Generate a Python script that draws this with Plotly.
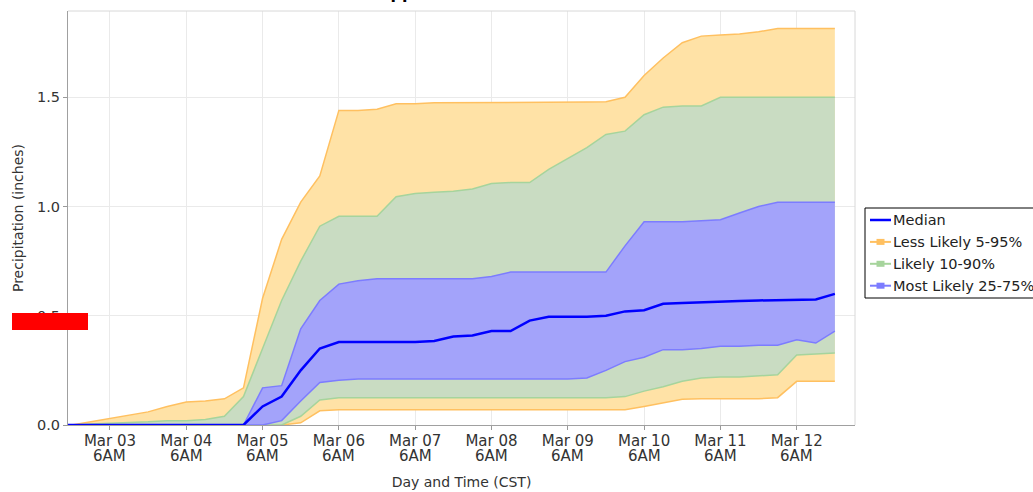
import pandas as pd
import plotly.graph_objects as go

# 6-hourly forecast times (CST)
times = pd.date_range("2024-03-02 12:00", "2024-03-12 18:00", freq="6h")

# Cumulative precipitation percentiles (inches)
p95 = [0, 0, 0.015, 0.03, 0.045, 0.06, 0.085, 0.105, 0.11, 0.12,
       0.17, 0.58, 0.85, 1.02, 1.14, 1.44, 1.44, 1.445, 1.47, 1.47,
       1.475, 1.475, 1.475, 1.475, 1.475, 1.475, 1.475, 1.475, 1.478, 1.48,
       1.50, 1.60, 1.68, 1.75, 1.78, 1.785, 1.79, 1.80, 1.815, 1.815,
       1.815, 1.815]
p90 = [0, 0, 0.005, 0.01, 0.012, 0.015, 0.02, 0.02, 0.025, 0.04,
       0.13, 0.35, 0.57, 0.75, 0.91, 0.955, 0.955, 0.955, 1.045, 1.06,
       1.065, 1.07, 1.08, 1.105, 1.11, 1.11, 1.17, 1.22, 1.27, 1.33,
       1.345, 1.42, 1.455, 1.46, 1.46, 1.50, 1.50, 1.50, 1.50, 1.50,
       1.50, 1.50]
p75 = [0, 0, 0, 0, 0, 0, 0, 0, 0, 0,
       0, 0.17, 0.18, 0.44, 0.57, 0.645, 0.66, 0.67, 0.67, 0.67,
       0.67, 0.67, 0.67, 0.68, 0.70, 0.70, 0.70, 0.70, 0.70, 0.70,
       0.82, 0.93, 0.93, 0.93, 0.935, 0.94, 0.97, 1.00, 1.02, 1.02,
       1.02, 1.02]
median = [0, 0, 0, 0, 0, 0, 0, 0, 0, 0,
          0, 0.085, 0.13, 0.25, 0.35, 0.38, 0.38, 0.38, 0.38, 0.38,
          0.385, 0.405, 0.41, 0.43, 0.43, 0.478, 0.495, 0.495, 0.495, 0.50,
          0.52, 0.525, 0.555, 0.558, 0.562, 0.565, 0.568, 0.57, 0.572, 0.572,
          0.575, 0.60]
p25 = [0, 0, 0, 0, 0, 0, 0, 0, 0, 0,
       0, 0, 0.02, 0.11, 0.195, 0.205, 0.21, 0.21, 0.21, 0.21,
       0.21, 0.21, 0.21, 0.21, 0.21, 0.21, 0.21, 0.21, 0.215, 0.25,
       0.29, 0.31, 0.345, 0.345, 0.35, 0.36, 0.36, 0.365, 0.365, 0.39,
       0.375, 0.43]
p10 = [0, 0, 0, 0, 0, 0, 0, 0, 0, 0,
       0, 0, 0, 0.04, 0.115, 0.125, 0.125, 0.125, 0.125, 0.125,
       0.125, 0.125, 0.125, 0.125, 0.125, 0.125, 0.125, 0.125, 0.125, 0.125,
       0.13, 0.155, 0.175, 0.20, 0.215, 0.22, 0.22, 0.225, 0.23, 0.32,
       0.325, 0.33]
p5 = [0, 0, 0, 0, 0, 0, 0, 0, 0, 0,
      0, 0, 0, 0.01, 0.065, 0.07, 0.07, 0.07, 0.07, 0.07,
      0.07, 0.07, 0.07, 0.07, 0.07, 0.07, 0.07, 0.07, 0.07, 0.07,
      0.07, 0.085, 0.10, 0.118, 0.12, 0.12, 0.12, 0.12, 0.125, 0.20,
      0.20, 0.20]

# Axis ticks: date on the axis, hour on a second line just beneath it
tick_times = pd.date_range("2024-03-03 06:00", "2024-03-12 06:00", freq="1D")
tick_dates = [t.strftime("%b %d") for t in tick_times]
tick_hours = ["6AM"] * len(tick_times)
y_ticks = [0.0, 0.5, 1.0, 1.5]
y_labels = [f"{v:.1f}" for v in y_ticks]

W, H = 1033, 492
ML, MR, MT, MB = 68, 178, 11, 67
PW, PH = W - ML - MR, H - MT - MB


def px(x):
    """Pixel column -> paper x."""
    return (x - ML) / PW


def py(y):
    """Pixel row -> paper y."""
    return (H - MB - y) / PH


FONT = "DejaVu Sans"
TEXT = "#333333"
bands = [
    ("Less Likely 5-95%", p5, p95, "#FFE2A6", "#FFC060"),
    ("Likely 10-90%", p10, p90, "#C9DCC2", "#A6D49C"),
    ("Most Likely 25-75%", p25, p75, "#A3A3FA", "#7C7CFF"),
]
MEDIAN_COLOR = "#0000FF"

fig = go.Figure()
for name, lo, hi, fill, edge in bands:
    fig.add_trace(go.Scatter(x=times, y=lo, mode="lines", line=dict(color=edge, width=1.5),
                             showlegend=False, hoverinfo="skip"))
    fig.add_trace(go.Scatter(x=times, y=hi, mode="lines", line=dict(color=edge, width=1.5),
                             fill="tonexty", fillcolor=fill, name=name, showlegend=False))

fig.add_trace(go.Scatter(x=times, y=median, mode="lines", name="Median", showlegend=False,
                         line=dict(color=MEDIAN_COLOR, width=2.5)))

# Boxed key at the right of the plot
shapes = [
    # light frame on the top and right of the plot area
    dict(type="path", xref="paper", yref="paper", path="M 0,1 L 1,1 L 1,0",
         line=dict(color="#D8D8D8", width=1)),
    # key border
    dict(type="rect", xref="paper", yref="paper", x0=px(865), x1=px(1045),
         y0=py(298), y1=py(208), line=dict(color="black", width=1), fillcolor="white"),
]
annotations = []
key_entries = [("Median", MEDIAN_COLOR, False)] + [(b[0], b[4], True) for b in bands]
for i, (name, color, has_marker) in enumerate(key_entries):
    yc = 220 + i * 21.9
    shapes.append(dict(type="line", xref="paper", yref="paper", x0=px(870), x1=px(891),
                       y0=py(yc), y1=py(yc),
                       line=dict(color=color, width=2.5 if not has_marker else 2)))
    if has_marker:
        shapes.append(dict(type="rect", xref="paper", yref="paper", x0=px(876.5), x1=px(884.5),
                           y0=py(yc + 3), y1=py(yc - 3), fillcolor=color,
                           line=dict(color=color, width=0)))
    annotations.append(dict(text=name, xref="paper", yref="paper", x=px(891), y=py(yc),
                            xanchor="left", yanchor="middle", showarrow=False,
                            font=dict(family=FONT, size=14.5, color="#222222")))

# red bar over the left axis
shapes.append(dict(type="rect", xref="paper", yref="paper", x0=px(12), x1=px(88),
                   y0=py(330), y1=py(313), fillcolor="#FF0000", line=dict(width=0), layer="above"))

for t, h in zip(tick_times, tick_hours):
    annotations.append(dict(text=h, x=t, xref="x", y=py(456), yref="paper",
                            xanchor="center", yanchor="middle", showarrow=False,
                            font=dict(family=FONT, size=15, color=TEXT)))

annotations.append(dict(text="<b>Mississippi River Basin Total Forecast</b>",
                        xref="paper", yref="paper", x=px(318), y=py(5),
                        xanchor="left", yanchor="bottom", showarrow=False,
                        font=dict(family=FONT, size=16, color="black")))

fig.update_layout(
    width=W, height=H,
    margin=dict(l=ML, r=MR, t=MT, b=MB, autoexpand=False),
    paper_bgcolor="white", plot_bgcolor="white",
    font=dict(family=FONT, size=14, color=TEXT),
    showlegend=False,
    xaxis=dict(
        range=["2024-03-02 16:48", "2024-03-13 00:20"],
        tickvals=tick_times, ticktext=tick_dates,
        tickfont=dict(size=15, color=TEXT),
        ticks="outside", ticklen=4, tickcolor="#999999",
        ticklabelstandoff=-2,
        showline=True, linecolor="#A0A0A0", linewidth=1,
        showgrid=True, gridcolor="#EAEAEA", zeroline=False,
        layer="below traces",
        title=dict(text="Day and Time (CST)", font=dict(size=14), standoff=28),
    ),
    yaxis=dict(
        range=[0, 1.895],
        tickvals=y_ticks, ticktext=y_labels,
        tickfont=dict(size=14.5, color=TEXT),
        ticks="outside", ticklen=4, tickcolor="#999999",
        showline=True, linecolor="#A0A0A0", linewidth=1,
        showgrid=True, gridcolor="#EAEAEA", zeroline=False,
        layer="below traces",
        title=dict(text="Precipitation (inches)", font=dict(size=14), standoff=10),
    ),
    shapes=shapes,
    annotations=annotations,
)

fig.write_html("out.html")
